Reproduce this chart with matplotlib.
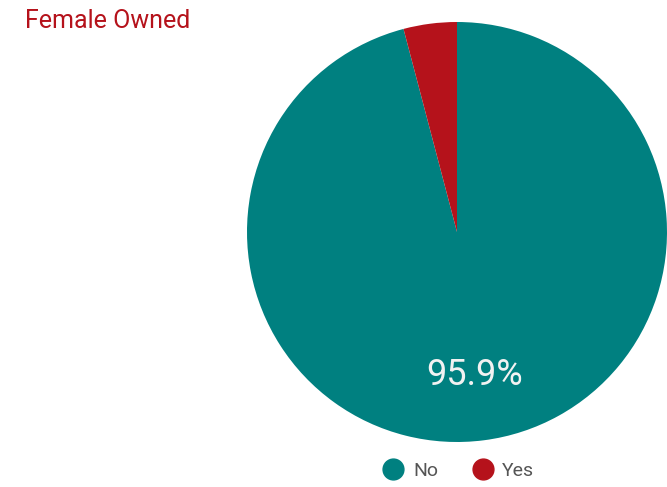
import matplotlib.pyplot as plt
from matplotlib.lines import Line2D

labels = ['No', 'Yes']
values = [95.9, 4.1]
colors = ['#008080', '#b5121b']

plt.rcParams['font.family'] = ['Roboto', 'DejaVu Sans']

fig = plt.figure(figsize=(6.67, 4.87), dpi=100)
ax = fig.add_axes([0, 0, 1, 1])

wedges, _ = ax.pie(values, colors=colors, startangle=90, counterclock=False,
                   center=(457, 255), radius=210, frame=True,
                   wedgeprops=dict(linewidth=0))
ax.set_xlim(0, 667)
ax.set_ylim(0, 487)
ax.set_aspect('equal')
ax.axis('off')

ax.text(475, 112, f'{values[0]}%', color='#f2f2f2', fontsize=26,
        ha='center', va='center')

fig.text(25 / 667, 1 - 21 / 487, 'Female Owned', color='#b5121b',
         fontsize=18, ha='left', va='center')

handles = [Line2D([], [], marker='o', linestyle='', markersize=15,
                  markerfacecolor=c, markeredgecolor=c) for c in colors]
fig.legend(handles, labels, loc='center', ncol=2,
           bbox_to_anchor=(459 / 667, 1 - 471 / 487), frameon=False,
           fontsize=14, labelcolor='#555555', handletextpad=0.5,
           columnspacing=1.8, handlelength=1.0)

fig.savefig('out.png', dpi=100)
